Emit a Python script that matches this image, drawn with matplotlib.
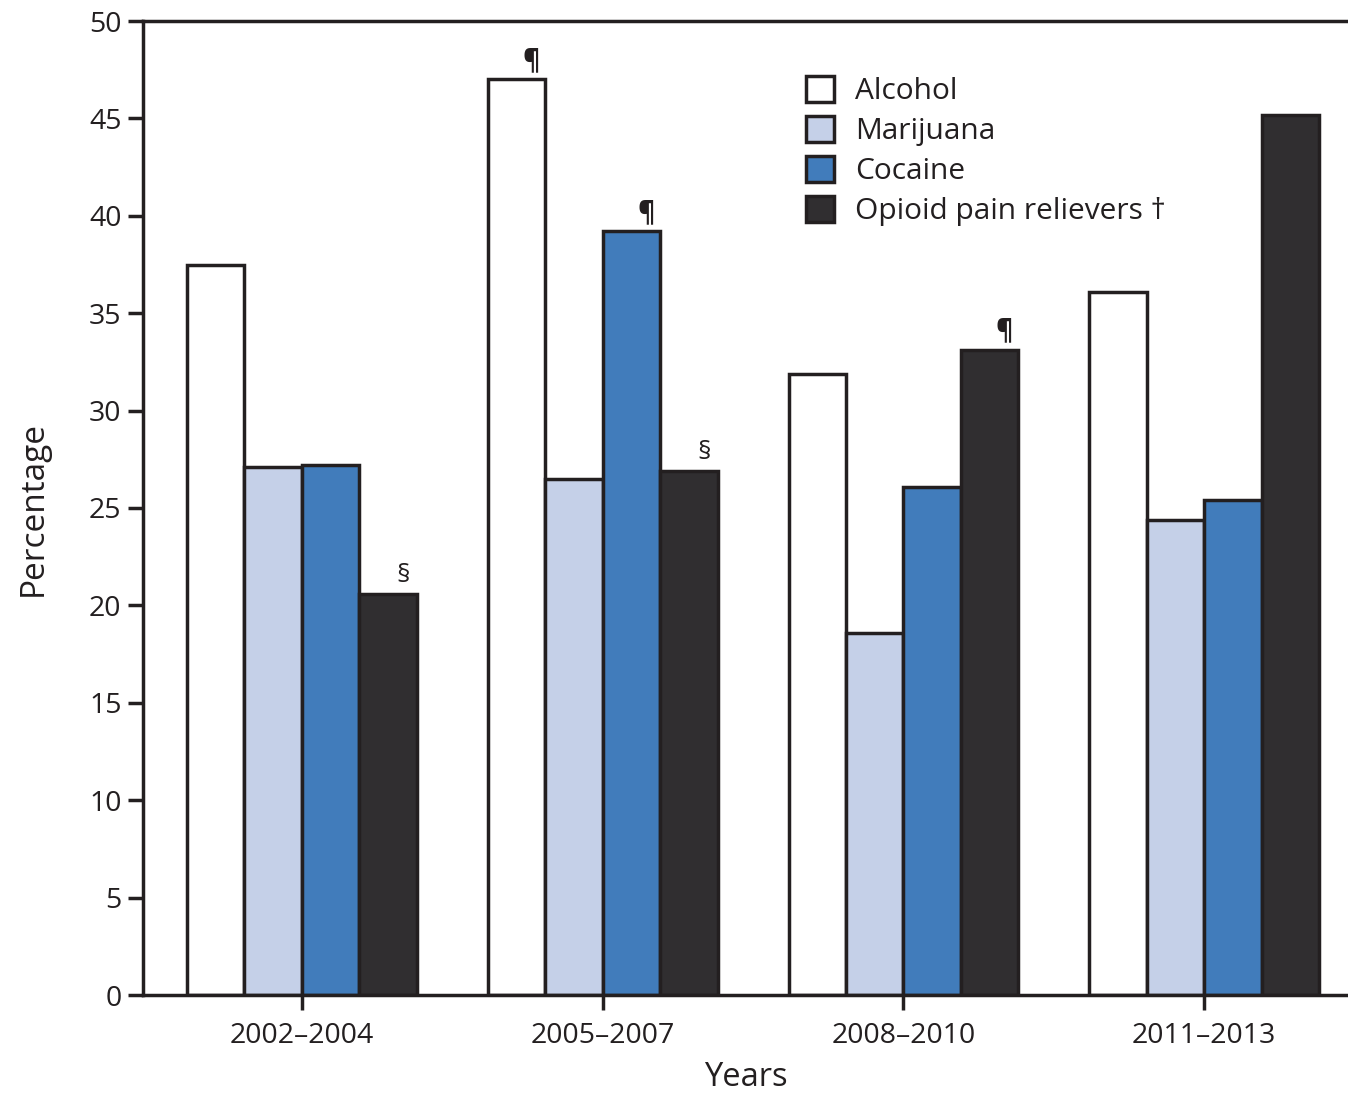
import numpy as np
import matplotlib.pyplot as plt
from matplotlib.patches import Patch

# data
periods = ["2002\u20132004", "2005\u20132007", "2008\u20132010", "2011\u20132013"]
alcohol = [37.5, 47.0, 31.9, 36.1]
marijuana = [27.1, 26.5, 18.6, 24.4]
cocaine = [27.2, 39.2, 26.1, 25.4]
opioid = [20.6, 26.9, 33.1, 45.2]

# footnote marks: (series index, period index, symbol)
marks = [(3, 0, "\u00a7"), (0, 1, "\u00b6"), (2, 1, "\u00b6"), (3, 1, "\u00a7"), (3, 2, "\u00b6")]

series = [alcohol, marijuana, cocaine, opioid]
names = ["Alcohol", "Marijuana", "Cocaine", "Opioid pain relievers \u2020"]
colors = ["#ffffff", "#c5d0e8", "#417cbb", "#302e30"]
edge = "#231f20"

plt.rcParams['font.family'] = ['Open Sans', 'DejaVu Sans']

fig = plt.figure(figsize=(13.48, 10.95), dpi=100)
ax = fig.add_axes([143 / 1348, 1 - 995 / 1095, 1 - 143 / 1348, (995 - 21) / 1095])

x = np.arange(len(periods))
w = 0.191
for i, vals in enumerate(series):
    ax.bar(x + (i - 1.5) * w, vals, width=w, color=colors[i], edgecolor=edge,
           linewidth=2.5, label=names[i], zorder=2)

for si, pi, sym in marks:
    xp = x[pi] + (si - 1.5) * w + 0.05
    ax.annotate(sym, (xp, series[si][pi]), xytext=(0, 4), textcoords="offset points",
                ha="center", va="bottom", fontsize=19, color=edge,
                fontweight="bold" if sym == "\u00b6" else "normal")

ax.set_xlim(-0.528, 3.478)
ax.set_ylim(0, 50)
ax.set_yticks(range(0, 51, 5))
ax.set_xticks(x)
ax.set_xticklabels(periods)
ax.tick_params(axis="both", direction="out", length=10.5, width=2.5, color=edge,
               labelsize=20.5, labelcolor=edge)
ax.tick_params(axis="y", pad=5)
ax.tick_params(axis="x", pad=9)
ax.spines["right"].set_visible(False)
for s in ["left", "bottom", "top"]:
    ax.spines[s].set_linewidth(2.5)
    ax.spines[s].set_color(edge)

ax.set_ylabel("Percentage", fontsize=24, color=edge, labelpad=28)
ax.set_xlabel("Years", fontsize=23.5, color=edge, labelpad=8)

handles = [Patch(facecolor=colors[i], edgecolor=edge, linewidth=2.5) for i in range(4)]
ax.legend(handles, names, loc="upper left", bbox_to_anchor=(806 / 1348, 1 - 76 / 1095),
          bbox_transform=fig.transFigure, frameon=False, fontsize=21.5,
          handlelength=0.95, handleheight=0.95, handletextpad=0.7, labelspacing=0.33,
          labelcolor=edge, borderaxespad=0, borderpad=0)

plt.savefig("out.png", dpi=100)
